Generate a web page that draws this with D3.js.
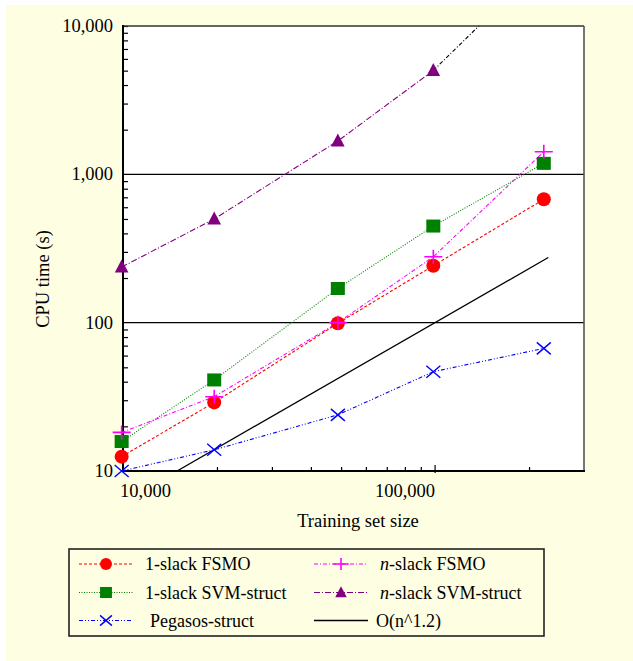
<!DOCTYPE html>
<html><head><meta charset="utf-8">
<script src="https://cdn.jsdelivr.net/npm/d3@7"></script>
<style>
html,body{margin:0;padding:0;background:#fff;}
svg{display:block;}
text{font-family:"Liberation Serif","Times New Roman",serif;fill:#000;}
</style></head>
<body>
<svg id="chart" width="633" height="661"></svg>
<script>
// ---- data ----
const trainSizes = [9900, 19600, 48800, 98700, 223000];
const oneSlackFSMO = [12.5, 29.0, 99, 242, 679];
const nSlackFSMO = [18.2, 31.7, 100, 278, 1421];
const oneSlackSVM = [15.8, 41.1, 170, 448, 1186];
const nSlackSVM = [237, 500, 1678, 5012, 26800];
const pegasos = [10.0, 13.9, 23.9, 46.7, 67.1];
const bigOSizes = [14900, 230500];
const bigOTimes = [10, 275];
const yTickValues = [10, 100, 1000, 10000];
const yTickLabels = ["10", "100", "1,000", "10,000"];
const xTickValues = [10000, 100000];
const xTickLabels = ["10,000", "100,000"];
const legendLabels = ["1-slack FSMO", "n-slack FSMO", "1-slack SVM-struct", "n-slack SVM-struct", "Pegasos-struct", "O(n^1.2)"];

const svg = d3.select("#chart");
const bg = "#FEFEE2";
svg.append("rect").attr("x", 6).attr("y", 5).attr("width", 627).attr("height", 656).attr("fill", bg);

const L = 123, R = 584, T = 26, B = 471;
const x = d3.scaleLog().domain([10000, 300000]).range([L, R]);
const y = d3.scaleLog().domain([10, 10000]).range([B, T]);

svg.append("rect").attr("x", L).attr("y", T).attr("width", R - L).attr("height", B - T).attr("fill", "#fff");

svg.append("defs").append("clipPath").attr("id", "clip")
  .append("rect").attr("x", L).attr("y", T).attr("width", R - L).attr("height", B - T);

// gridlines at 100 and 1000
svg.selectAll(".grid").data([100, 1000]).enter().append("line")
  .attr("x1", L).attr("x2", R).attr("y1", d => y(d)).attr("y2", d => y(d))
  .attr("stroke", "#000").attr("stroke-width", 1.3);

// minor y ticks (inward)
const yMinor = [];
[10, 100, 1000].forEach(d => { for (let k = 2; k <= 9; k++) yMinor.push(d * k); });
const yAxis = d3.axisRight(y).tickValues(yMinor.concat([10000])).tickSize(5).tickFormat("");
const gy = svg.append("g").attr("transform", `translate(${L},0)`).call(yAxis);
gy.select(".domain").remove();
gy.selectAll("line").attr("stroke", "#000").attr("stroke-width", 1.2);

// minor x ticks (inward)
const xMinor = [];
[10000, 100000].forEach(d => { for (let k = 2; k <= 9; k++) if (d * k < 300000) xMinor.push(d * k); });
const xAxis = d3.axisTop(x).tickValues(xMinor).tickSize(4).tickFormat("");
const gx = svg.append("g").attr("transform", `translate(0,${B})`).call(xAxis);
gx.select(".domain").remove();
gx.selectAll("line").attr("stroke", "#000").attr("stroke-width", 1.2);
svg.append("line").attr("x1", x(100000)).attr("x2", x(100000)).attr("y1", B - 6).attr("y2", B + 2)
  .attr("stroke", "#000").attr("stroke-width", 1.2);

// borders
svg.append("line").attr("x1", L).attr("x2", R).attr("y1", T).attr("y2", T).attr("stroke", "#333").attr("stroke-width", 1.5);
svg.append("line").attr("x1", R).attr("x2", R).attr("y1", T).attr("y2", B).attr("stroke", "#555").attr("stroke-width", 1.6);
svg.append("line").attr("x1", L).attr("x2", L).attr("y1", T - 1).attr("y2", B + 1).attr("stroke", "#000").attr("stroke-width", 2);
svg.append("line").attr("x1", L - 1).attr("x2", R + 1).attr("y1", B).attr("y2", B).attr("stroke", "#000").attr("stroke-width", 2);

// tick labels
svg.selectAll(".ylab").data(yTickValues).enter().append("text")
  .attr("x", L - 10).attr("y", d => y(d) + 6).attr("text-anchor", "end")
  .attr("font-size", 18.5).text((d, i) => yTickLabels[i]);
svg.selectAll(".xlab").data(xTickValues).enter().append("text")
  .attr("x", (d, i) => i === 0 ? x(d) - 3 : x(d)).attr("y", 497)
  .attr("text-anchor", (d, i) => i === 0 ? "start" : "end")
  .attr("font-size", 18.5).text((d, i) => xTickLabels[i]);

// axis titles
svg.append("text").attr("transform", "translate(49,279) rotate(-90)").attr("text-anchor", "middle")
  .attr("font-size", 18.5).text("CPU time (s)");
svg.append("text").attr("x", 358).attr("y", 527).attr("text-anchor", "middle")
  .attr("font-size", 18.5).text("Training set size");

// markers
function marker(g, type, color, s) {
  if (type === "circle") g.append("circle").attr("r", 7 * s).attr("fill", color);
  else if (type === "square") g.append("rect").attr("x", -7 * s).attr("y", -6.5 * s).attr("width", 14 * s).attr("height", 13 * s).attr("fill", color);
  else if (type === "triangle") g.append("path").attr("d", `M0,${-7.5 * s}L${6.8 * s},${5.5 * s}L${-6.8 * s},${5.5 * s}Z`).attr("fill", color);
  else if (type === "plus") g.append("path").attr("d", `M${-9 * s},0H${9 * s}M0,${-7 * s}V${7 * s}`).attr("stroke", color).attr("stroke-width", 1.6).attr("fill", "none");
  else if (type === "x") g.append("path").attr("d", `M${-7 * s},${-6 * s}L${7 * s},${6 * s}M${-7 * s},${6 * s}L${7 * s},${-6 * s}`).attr("stroke", color).attr("stroke-width", 1.4).attr("fill", "none");
}

const series = [
  { vals: nSlackSVM, color: "#800080", dash: "6,2,1,2", type: "triangle", n: 4 },
  { vals: oneSlackSVM, color: "#008000", dash: "1,1.5", type: "square" },
  { vals: oneSlackFSMO, color: "#FF0000", dash: "3,2", type: "circle" },
  { vals: nSlackFSMO, color: "#FF00FF", dash: "4,2,1,2", type: "plus" },
  { vals: pegasos, color: "#0000FF", dash: "4,2,1,2,1,2", type: "x" }
];

const line = d3.line().x(d => x(d[0])).y(d => y(d[1]));
const plot = svg.append("g").attr("clip-path", "url(#clip)");

// O(n^1.2)
plot.append("path").datum(bigOSizes.map((d, i) => [d, bigOTimes[i]])).attr("d", line)
  .attr("fill", "none").attr("stroke", "#000").attr("stroke-width", 1.3);

// extension of n-slack SVM-struct beyond the top
plot.append("path").datum([[trainSizes[3], nSlackSVM[3]], [trainSizes[4], nSlackSVM[4]]]).attr("d", line)
  .attr("fill", "none").attr("stroke", "#000").attr("stroke-width", 1.1).attr("stroke-dasharray", "4,2,1,2");

series.forEach(s => {
  const n = s.n || s.vals.length;
  const pts = trainSizes.slice(0, n).map((d, i) => [d, s.vals[i]]);
  plot.append("path").datum(pts).attr("d", line).attr("fill", "none")
    .attr("stroke", s.color).attr("stroke-width", 1.1).attr("stroke-dasharray", s.dash);
});
series.forEach(s => {
  const n = s.n || s.vals.length;
  trainSizes.slice(0, n).forEach((d, i) => {
    const g = svg.append("g").attr("transform", `translate(${x(d)},${y(s.vals[i])})`);
    marker(g, s.type, s.color, 1);
  });
});

// legend
svg.append("rect").attr("x", 69).attr("y", 549).attr("width", 475).attr("height", 87)
  .attr("fill", bg).attr("stroke", "#222").attr("stroke-width", 1.6);
const legItems = [
  { color: "#FF0000", dash: "3,2", type: "circle", col: 0, row: 0, label: legendLabels[0] },
  { color: "#FF00FF", dash: "4,2,1,2", type: "plus", col: 1, row: 0, label: legendLabels[1] },
  { color: "#008000", dash: "1,1.5", type: "square", col: 0, row: 1, label: legendLabels[2] },
  { color: "#800080", dash: "6,2,1,2", type: "triangle", col: 1, row: 1, label: legendLabels[3] },
  { color: "#0000FF", dash: "4,2,1,2,1,2", type: "x", col: 0, row: 2, label: legendLabels[4] },
  { color: "#000", dash: null, type: null, col: 1, row: 2, label: legendLabels[5] }
];
const rowY = [564, 592.5, 620.5];
const colX = [[79, 133, 106, 145], [314, 368, 341, 380]];
legItems.forEach(it => {
  const [x1, x2, xm, xt] = colX[it.col];
  const yy = rowY[it.row];
  const ln = svg.append("line").attr("x1", x1).attr("x2", x2).attr("y1", yy).attr("y2", yy)
    .attr("stroke", it.color).attr("stroke-width", it.dash ? 1.1 : 1.3);
  if (it.dash) ln.attr("stroke-dasharray", it.dash);
  if (it.type) marker(svg.append("g").attr("transform", `translate(${xm},${yy})`), it.type, it.color, 0.85);
  let tx = xt;
  if (it.row === 2 && it.col === 0) tx = 150;
  if (it.row === 2 && it.col === 1) tx = 376;
  const t = svg.append("text").attr("x", tx).attr("y", yy + 6).attr("font-size", 18);
  if (it.label.startsWith("n-")) {
    t.append("tspan").attr("font-style", "italic").text("n");
    t.append("tspan").text(it.label.slice(1));
  } else t.text(it.label);
});
</script>
</body></html>
